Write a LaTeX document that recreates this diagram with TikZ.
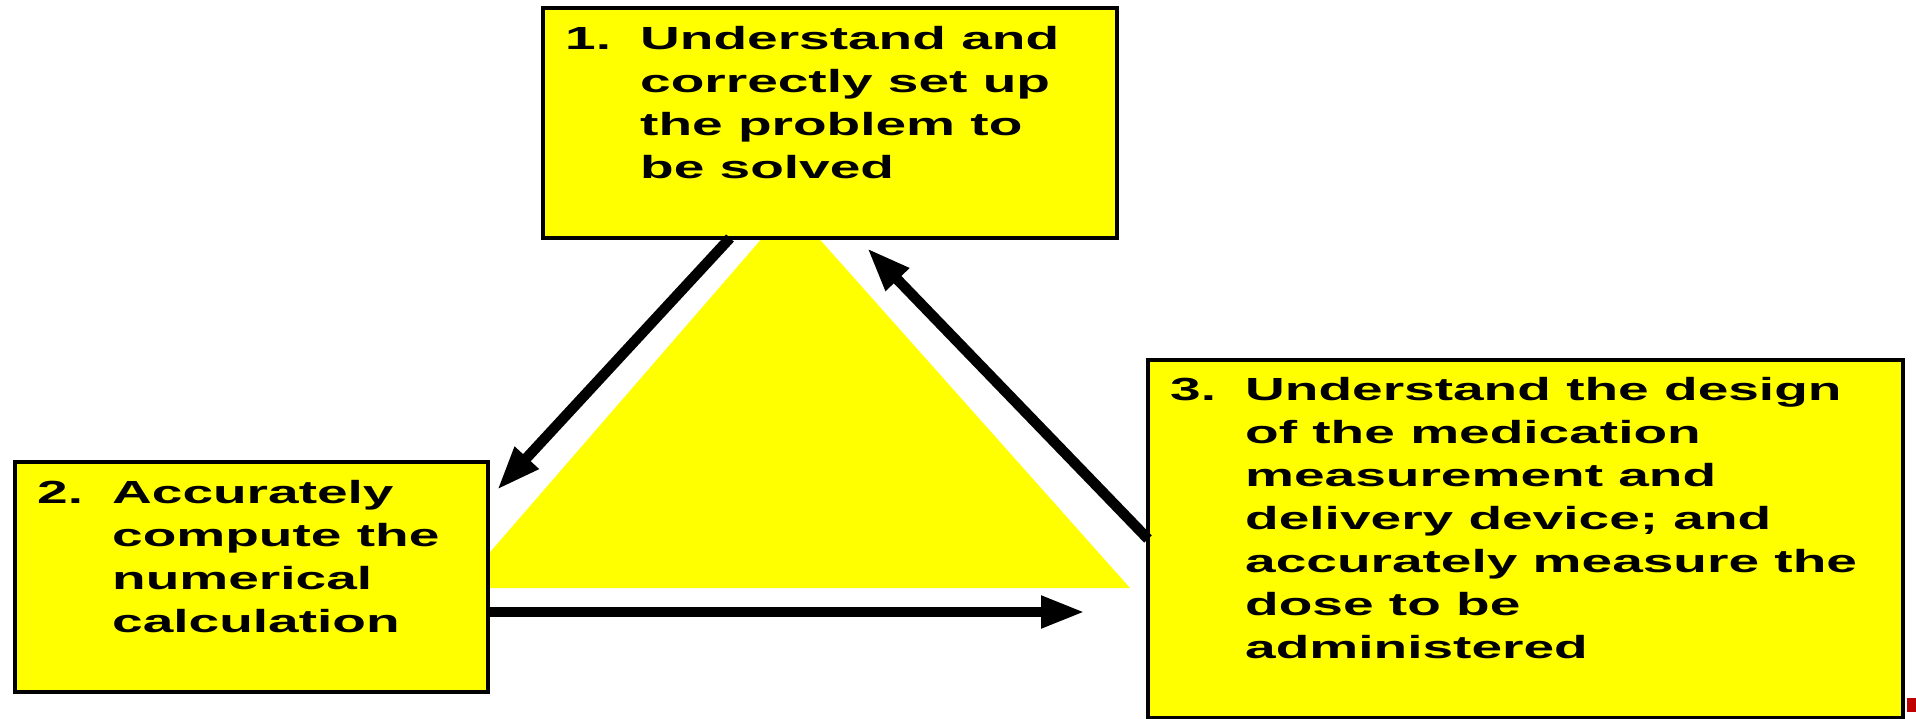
\documentclass[tikz,border=0pt]{standalone}
\usepackage{fontspec}
\usetikzlibrary{arrows.meta}
\newfontfamily\stepfont[FakeStretch=1.72]{Liberation Sans}
\definecolor{slideyellow}{RGB}{255,255,0}

\begin{document}
\begin{tikzpicture}[x=1pt,y=-1pt]

      \tikzset{stepbox/.style={draw, line width=4pt, fill=slideyellow, inner sep=0pt, outer sep=0pt},
               steptext/.style={inner sep=0pt, anchor=base west, font=\stepfont\bfseries\fontsize{32}{43}\selectfont},
               flow/.style={-{Triangle[length=44pt, width=30pt]}, line width=10.5pt}}
      \useasboundingbox (0,0) rectangle (1916,719);
%% Triangle
      \fill[slideyellow] (790,206) -- (459,588) -- (1130,588) -- cycle;
%% Arrow ends
      \coordinate (e12) at (497,490);
      \coordinate (e23) at (1085,612);
      \coordinate (e31) at (867,248);
%% Boxes
      \node[stepbox, minimum width=574pt, minimum height=230pt] (b1) at (830,123) {};
      \node[stepbox, minimum width=473pt, minimum height=230pt] (b2) at (251.5,577) {};
      \node[stepbox, minimum width=755pt, minimum height=358pt] (b3) at (1525.5,539) {};
%Arrows
      \draw[flow] ([xshift=-100pt]b1.south) -- (e12);
      \draw[flow] ([yshift=-35pt]b2.east) -- (e23);
      \draw[flow] (b3.west) -- (e31);
%Texts
      \node[steptext] (t1) at ([xshift=22pt, yshift=-42pt]b1.north west)
          {\begin{tabular}[t]{@{}p{75pt}@{}l@{}}1. & Understand and\\ & correctly set up\\ & the problem to\\ & be solved\end{tabular}};
      \node[steptext] (t2) at ([xshift=22pt, yshift=-41pt]b2.north west)
          {\begin{tabular}[t]{@{}p{75pt}@{}l@{}}2. & Accurately\\ & compute the\\ & numerical\\ & calculation\end{tabular}};
      \node[steptext] (t3) at ([xshift=22pt, yshift=-40pt]b3.north west)
          {\begin{tabular}[t]{@{}p{75pt}@{}l@{}}3. & Understand the design\\ & of the medication\\ & measurement and\\ & delivery device; and\\ & accurately measure the\\ & dose to be\\ & administered\end{tabular}};
%% Corner mark
      \fill[red!75!black] (1907,698) rectangle (1916,712);

\end{tikzpicture}
\end{document}
